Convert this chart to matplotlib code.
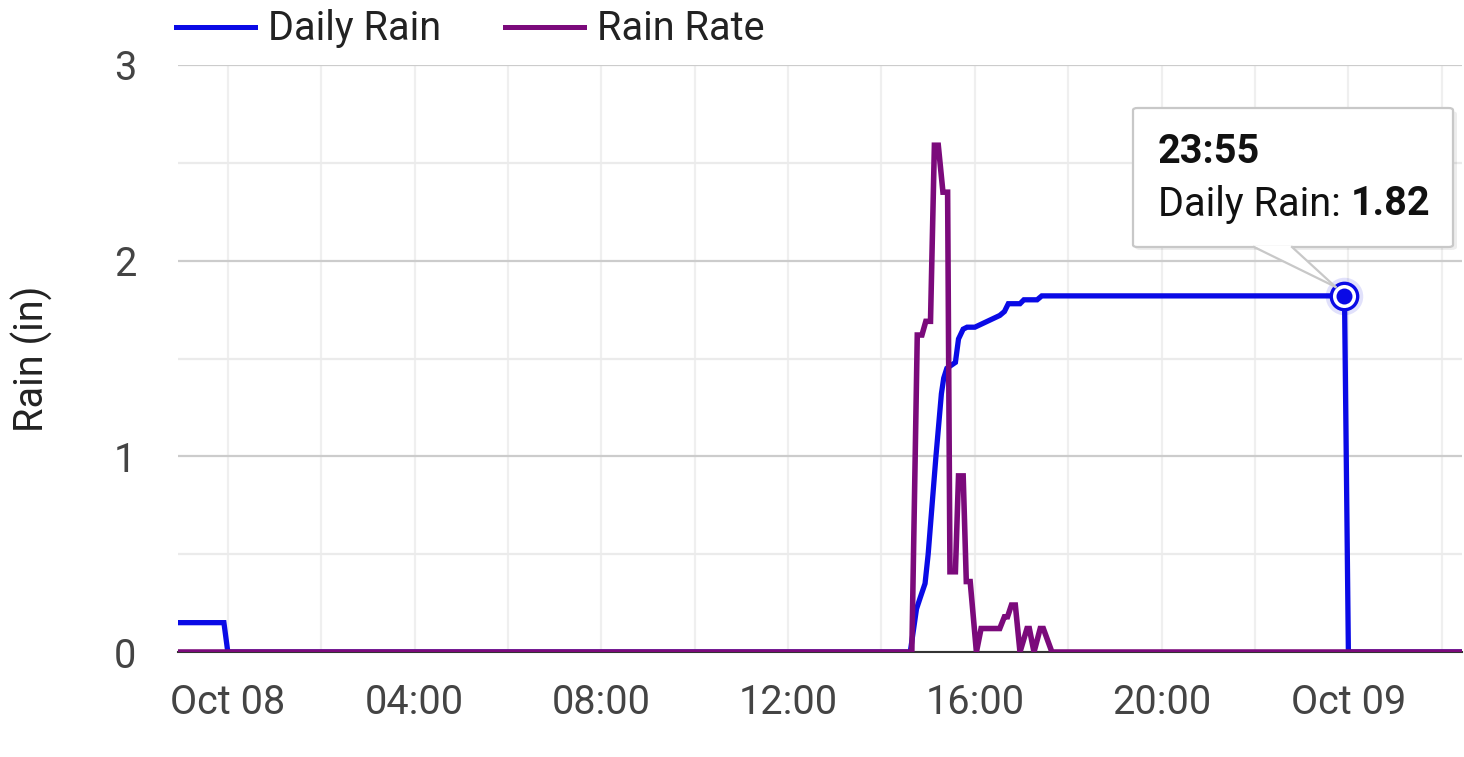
import matplotlib
matplotlib.use("Agg")
import matplotlib.pyplot as plt
import matplotlib.dates as mdates
from matplotlib.patches import FancyBboxPatch, Polygon
from matplotlib.lines import Line2D
import pandas as pd

plt.rcParams['font.family'] = ['Roboto', 'DejaVu Sans']

# --- data (times are month-day hour:minute) ---
daily_times = ["10-07 22:56", "10-07 23:55", "10-08 00:00", "10-08 14:37",
               "10-08 14:45", "10-08 14:50", "10-08 14:56", "10-08 15:00",
               "10-08 15:10", "10-08 15:17", "10-08 15:20", "10-08 15:24",
               "10-08 15:35", "10-08 15:39", "10-08 15:45", "10-08 15:50",
               "10-08 16:00", "10-08 16:32", "10-08 16:38", "10-08 16:43",
               "10-08 16:58", "10-08 17:03", "10-08 17:20", "10-08 17:26",
               "10-08 23:55", "10-09 00:00", "10-09 02:26"]
daily_rain = [0.15, 0.15, 0, 0,
              0.22, 0.28, 0.35, 0.50,
              1.00, 1.32, 1.40, 1.45,
              1.48, 1.60, 1.65, 1.66,
              1.66, 1.72, 1.74, 1.78,
              1.78, 1.80, 1.80, 1.82,
              1.82, 0, 0]

rate_times = ["10-07 22:56", "10-08 14:39", "10-08 14:46", "10-08 14:52",
              "10-08 14:57", "10-08 15:03", "10-08 15:08", "10-08 15:13",
              "10-08 15:19", "10-08 15:25", "10-08 15:28", "10-08 15:35",
              "10-08 15:39", "10-08 15:45", "10-08 15:49", "10-08 15:54",
              "10-08 16:02", "10-08 16:08", "10-08 16:32", "10-08 16:38",
              "10-08 16:42", "10-08 16:47", "10-08 16:52", "10-08 16:58",
              "10-08 17:07", "10-08 17:10", "10-08 17:16", "10-08 17:24",
              "10-08 17:28", "10-08 17:39", "10-09 02:26"]
rain_rate = [0, 0, 1.62, 1.62,
             1.69, 1.69, 2.59, 2.59,
             2.35, 2.35, 0.41, 0.41,
             0.90, 0.90, 0.36, 0.36,
             0, 0.12, 0.12, 0.18,
             0.18, 0.24, 0.24, 0,
             0.12, 0.12, 0, 0.12,
             0.12, 0, 0]

tip_time = "10-08 23:55"
tip_value = 1.82

blue = '#0a0ae6'
purple = '#7b0a7b'
fs = 28.5


def to_dt(lst):
    return pd.to_datetime(["2023-" + s for s in lst])


W, H = 1464, 757
fig = plt.figure(figsize=(W / 100, H / 100), dpi=100)
ax = fig.add_axes([178 / W, 1 - 652 / H, (1462 - 178) / W, 587 / H])

ax.plot(to_dt(daily_times), daily_rain, color=blue, lw=3.8, zorder=3,
        solid_joinstyle='miter')
ax.plot(to_dt(rate_times), rain_rate, color=purple, lw=4.0, zorder=4,
        solid_joinstyle='miter')

ax.set_xlim(to_dt(["10-07 22:56"])[0], to_dt(["10-09 02:26"])[0])
ax.set_ylim(0, 3)

# grid
ax.set_yticks([0, 1, 2, 3])
ax.set_yticks([0.5, 1.5, 2.5], minor=True)
ax.xaxis.set_major_locator(mdates.HourLocator(byhour=range(0, 24, 4)))
ax.xaxis.set_minor_locator(mdates.HourLocator(byhour=range(2, 24, 4)))


def fmt_time(x, pos=None):
    d = mdates.num2date(x)
    if d.hour == 0:
        return d.strftime('%b %d')
    return d.strftime('%H:%M')


ax.xaxis.set_major_formatter(plt.FuncFormatter(fmt_time))
ax.grid(axis='y', which='major', color='#cccccc', lw=1.6, zorder=0)
ax.grid(axis='y', which='minor', color='#ebebeb', lw=1.6, zorder=0)
ax.grid(axis='x', which='both', color='#efefef', lw=1.6, zorder=0)
ax.set_axisbelow(True)
ax.tick_params(axis='both', which='both', length=0)
ax.tick_params(axis='x', labelsize=fs, labelcolor='#444444', pad=22)
ax.tick_params(axis='y', labelsize=fs, labelcolor='#444444', pad=30)
for s in ['top', 'right', 'left']:
    ax.spines[s].set_visible(False)
ax.spines['bottom'].set_color('#333333')
ax.spines['bottom'].set_linewidth(1.5)

ax.set_ylabel('Rain (in)', fontsize=fs, color='#222222')
ax.yaxis.set_label_coords(-0.097, 0.50)

# legend
handles = [Line2D([0], [0], color=blue, lw=3.6),
           Line2D([0], [0], color=purple, lw=3.6)]
fig.legend(handles, ['Daily Rain', 'Rain Rate'], loc='center left',
           bbox_to_anchor=(176 / W, 1 - 29 / H), ncol=2, frameon=False,
           fontsize=fs, handlelength=2.0, handletextpad=0.33,
           columnspacing=1.6, borderpad=0, borderaxespad=0,
           labelcolor='#222222')

# highlighted point
tx = to_dt([tip_time])[0]
ax.plot([tx], [tip_value], 'o', ms=27, color=blue, alpha=0.12, zorder=5,
        mec='none')
ax.plot([tx], [tip_value], 'o', ms=19, mfc='white', mec=blue, mew=2.4,
        zorder=6)
ax.plot([tx], [tip_value], 'o', ms=11.5, color=blue, mec='none', zorder=7)

# tooltip
tr = fig.transFigure


def fx(px):
    return px / W


def fy(py):
    return 1 - py / H


px_pt = ax.transData.transform((mdates.date2num(tx), tip_value))
tip = fig.transFigure.inverted().transform(px_pt)
tip_end = (tip[0] - fx(9), tip[1] + 9 / H)

shadow = FancyBboxPatch((fx(1135), fy(250)), fx(1455) - fx(1133),
                        fy(108) - fy(247),
                        boxstyle='round,pad=0,rounding_size=0.004',
                        transform=tr, fc='#000000', ec='none', alpha=0.07,
                        zorder=9)
fig.patches.append(shadow)
box = FancyBboxPatch((fx(1133), fy(247)), fx(1453) - fx(1133),
                     fy(108) - fy(247),
                     boxstyle='round,pad=0,rounding_size=0.003',
                     transform=tr, fc='white', ec='#c8c8c8', lw=1.6,
                     zorder=10)
fig.patches.append(box)
tri = Polygon([(fx(1254), fy(246)), (fx(1292), fy(246)), tip_end],
              closed=True, transform=tr, fc='white', ec='none', zorder=11)
fig.patches.append(tri)
for xs in (1254, 1292):
    fig.lines.append(Line2D([fx(xs), tip_end[0]], [fy(247), tip_end[1]],
                            transform=tr, color='#c8c8c8', lw=1.6,
                            zorder=12))

fig.text(fx(1158), fy(152), '23:55', fontsize=fs, fontweight='bold',
         color='#111111', va='center', ha='left', zorder=13)
t1 = fig.text(fx(1158), fy(204), 'Daily Rain: ', fontsize=fs,
              color='#111111', va='center', ha='left', zorder=13)
fig.canvas.draw()
bb = t1.get_window_extent()
fig.text(bb.x1 / W, fy(204), f'{tip_value:.2f}', fontsize=fs,
         fontweight='bold', color='#111111', va='center', ha='left',
         zorder=13)

fig.savefig('out.png', dpi=100)
